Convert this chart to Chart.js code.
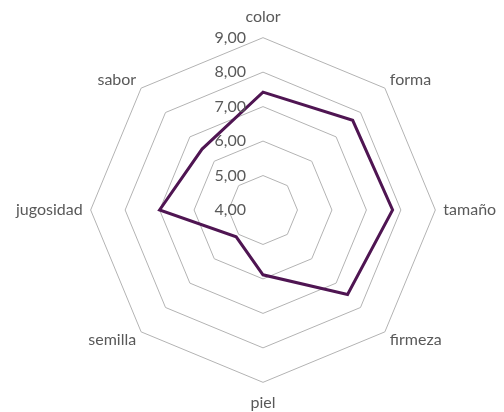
<!DOCTYPE html>
<html>
<head>
<meta charset="utf-8">
<script src="https://cdn.jsdelivr.net/npm/chart.js@4/dist/chart.umd.min.js"></script>
<style>
  html, body { margin: 0; padding: 0; background: #fff; }
  #wrap { width: 504px; height: 412px; }
</style>
</head>
<body>
<div id="wrap"><canvas id="radarChart"></canvas></div>
<script>
// attributes and mean scores
var attributes = ["color", "forma", "tamaño", "firmeza", "piel", "semilla", "jugosidad", "sabor"];
var scores = [7.42, 7.68, 7.76, 7.47, 5.88, 5.1, 7.0, 6.5];
var tickValues = [4, 5, 6, 7, 8, 9];

// tick labels written with a decimal comma, to the left of the vertical axis
var tickLabelPlugin = {
  id: "tickLabels",
  afterDraw: function (chart) {
    var scale = chart.scales.r;
    var ctx = chart.ctx;
    ctx.save();
    ctx.font = "16px Lato";
    ctx.fillStyle = "#595959";
    ctx.textAlign = "right";
    ctx.textBaseline = "middle";
    tickValues.forEach(function (v) {
      var d = scale.getDistanceFromCenterForValue(v);
      ctx.fillText(v.toFixed(2).replace(".", ","), scale.xCenter - 17, scale.yCenter - d);
    });
    ctx.restore();
  }
};

// label gap per axis: top/bottom further out, diagonals tucked in
function labelPadding(c) {
  var i = c.index;
  if (i === 0) return 18;
  if (i === 4) return 17;
  if (i === 2 || i === 6) return 8;
  return 7;
}

var ctx = document.getElementById("radarChart").getContext("2d");
var radarChart = new Chart(ctx, {
  type: "radar",
  data: {
    labels: attributes,
    datasets: [
      {
        label: "promedio",
        data: scores,
        borderColor: "#4f1552",
        borderWidth: 3,
        fill: false,
        pointRadius: 0,
        tension: 0,
      },
    ],
  },
  options: {
    responsive: true,
    maintainAspectRatio: false,
    animation: false,
    layout: { padding: { left: 10, right: -4, top: 10, bottom: 2 } },
    plugins: {
      legend: { display: false },
      tooltip: { enabled: false },
    },
    scales: {
      r: {
        min: 4,
        max: 9,
        ticks: { stepSize: 1, display: false },
        angleLines: { display: false },
        grid: { color: "#b3b3b3", lineWidth: 1 },
        pointLabels: {
          padding: labelPadding,
          color: "#595959",
          font: { family: "Lato", size: 16, lineHeight: 0.4 },
        },
      },
    },
  },
  plugins: [tickLabelPlugin],
});
</script>
</body>
</html>
